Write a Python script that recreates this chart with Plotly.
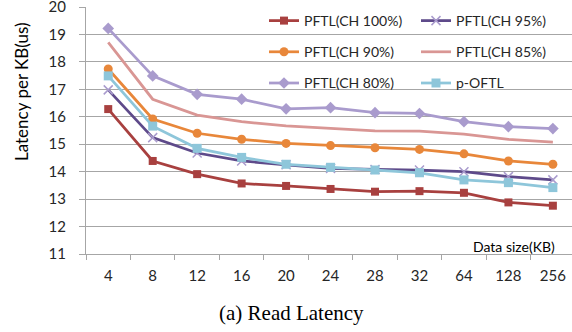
import plotly.graph_objects as go

categories = ["4", "8", "12", "16", "20", "24", "28", "32", "64", "128", "256"]

ch100 = [16.28, 14.39, 13.91, 13.57, 13.48, 13.37, 13.27, 13.29, 13.23, 12.88, 12.76]
ch95 = [16.98, 15.24, 14.68, 14.39, 14.25, 14.12, 14.08, 14.06, 14.00, 13.82, 13.70]
ch90 = [17.74, 15.92, 15.40, 15.18, 15.03, 14.95, 14.87, 14.81, 14.65, 14.39, 14.27]
ch85 = [18.71, 16.64, 16.06, 15.82, 15.67, 15.59, 15.49, 15.48, 15.37, 15.18, 15.08]
ch80 = [19.22, 17.49, 16.82, 16.64, 16.29, 16.33, 16.15, 16.12, 15.82, 15.64, 15.57]
poftl = [17.49, 15.66, 14.85, 14.52, 14.27, 14.16, 14.06, 13.96, 13.70, 13.60, 13.42]

W, H = 572, 332
L, R, T, B = 86, 0, 7, 78
pw, ph = W - L - R, H - T - B

def px_x(x):
    return (x - L) / pw

def px_y(y):
    return (H - B - y) / ph

fig = go.Figure()

series = [
    ("PFTL(CH 100%)", ch100, "#A8403F", "square", 8, "legend", "g1"),
    ("PFTL(CH 95%)", ch95, "#5E4A8A", "x-thin", 9, "legend2", "g2"),
    ("PFTL(CH 90%)", ch90, "#E8873A", "circle", 9, "legend", "g3"),
    ("PFTL(CH 85%)", ch85, "#D99694", None, 0, "legend2", "g4"),
    ("PFTL(CH 80%)", ch80, "#A99BCD", "diamond", 9, "legend", "g5"),
    ("p-OFTL", poftl, "#8EC6DA", "square", 9, "legend2", "g6"),
]

for name, vals, color, sym, size, leg, grp in series:
    if sym is None:
        fig.add_trace(go.Scatter(
            x=categories, y=vals, name=name, mode="lines",
            line=dict(color=color, width=2.75),
            legend=leg, legendgroup=grp,
        ))
    elif sym == "x-thin":
        fig.add_trace(go.Scatter(
            x=categories, y=vals, name=name, mode="lines+markers",
            line=dict(color=color, width=2.75),
            marker=dict(symbol=sym, size=size, color="#A99BCD",
                        line=dict(color="#A99BCD", width=1.5)),
            legend=leg, legendgroup=grp,
        ))
    else:
        fig.add_trace(go.Scatter(
            x=categories, y=vals, name=name, mode="lines+markers",
            line=dict(color=color, width=2.75),
            marker=dict(symbol=sym, size=size, color=color),
            legend=leg, legendgroup=grp,
        ))

font_main = "Lato, 'Open Sans', sans-serif"
grid_col = "#A6A6A6"

legend_common = dict(
    bgcolor="rgba(0,0,0,0)",
    font=dict(family=font_main, size=14, color="#262626"),
    traceorder="grouped",
    tracegroupgap=10,
    xanchor="left",
    yanchor="top",
    itemwidth=30,
)

fig.update_layout(
    width=W, height=H,
    margin=dict(l=L, r=R, t=T, b=B, autoexpand=False),
    plot_bgcolor="white",
    paper_bgcolor="white",
    showlegend=True,
    legend=dict(x=px_x(264), y=px_y(5), **legend_common),
    legend2=dict(x=px_x(416), y=px_y(5), **legend_common),
    xaxis=dict(
        type="category",
        range=[-0.5, 10.43],
        tickson="boundaries",
        automargin=False,
        showgrid=False,
        showline=True, linecolor=grid_col, linewidth=1,
        ticks="outside", ticklen=5, tickcolor=grid_col,
        tickfont=dict(family=font_main, size=15, color="#262626"),
        ticklabelstandoff=8,
        ticklabeloverflow="allow",
    ),
    yaxis=dict(
        range=[11, 20.0001],
        tickvals=[11, 12, 13, 14, 15, 16, 17, 18, 19, 20],
        automargin=False,
        showgrid=True, gridcolor=grid_col, gridwidth=1,
        zeroline=False,
        showline=True, linecolor=grid_col, linewidth=1,
        ticks="outside", ticklen=6, tickcolor=grid_col,
        tickfont=dict(family=font_main, size=15, color="#262626"),
        ticklabelstandoff=10,
        ticklabeloverflow="allow",
    ),
    annotations=[
        dict(text="Latency per KB(us)", textangle=-90,
             x=px_x(21), y=px_y(92), xref="paper", yref="paper",
             xanchor="center", yanchor="middle", showarrow=False,
             font=dict(family=font_main, size=17, color="#000000")),
        dict(text="Data size(KB)",
             x=px_x(557), y=px_y(246), xref="paper", yref="paper",
             xanchor="right", yanchor="middle", showarrow=False,
             font=dict(family=font_main, size=14, color="#000000")),
        dict(text="(a) Read Latency",
             x=px_x(291), y=px_y(313), xref="paper", yref="paper",
             xanchor="center", yanchor="middle", showarrow=False,
             font=dict(family="'Liberation Serif', 'Times New Roman', serif", size=21, color="#000000")),
    ],
)

fig.write_html(
    "out.html",
    config={"displayModeBar": False},
    post_script="document.body.style.margin='0';document.body.style.padding='0';document.documentElement.style.overflow='hidden';",
)
